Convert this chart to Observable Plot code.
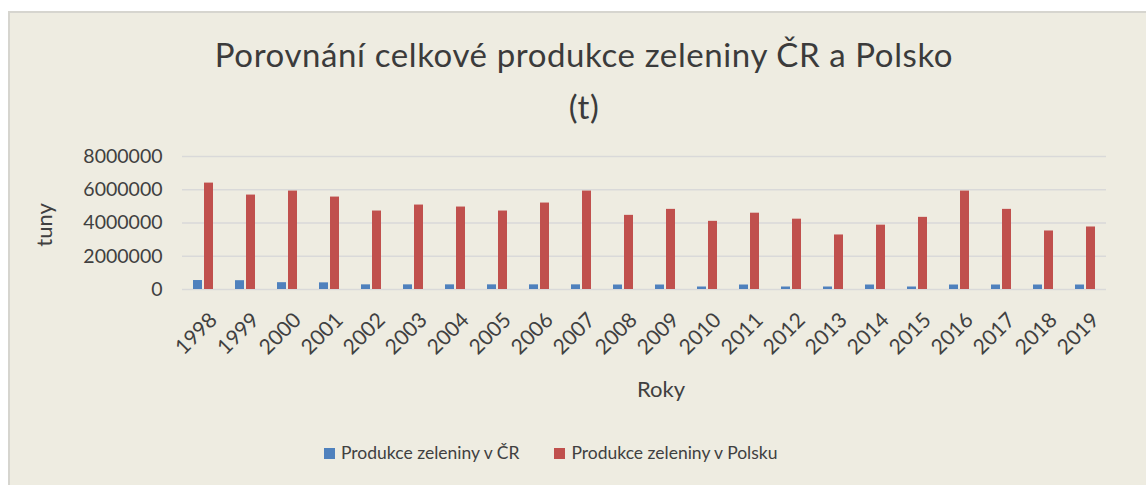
<!DOCTYPE html>
<html><head><meta charset="utf-8">
<script src="https://cdn.jsdelivr.net/npm/d3@7"></script>
<script src="https://cdn.jsdelivr.net/npm/@observablehq/plot@0.6"></script>
<style>
body{margin:0;background:#fff;font-family:Lato, sans-serif;color:#404040;}
#wrap{position:relative;width:1146px;height:485px;overflow:hidden;}
#panel{position:absolute;left:8px;top:11px;width:1150px;height:480px;background:#EEECE1;border-left:2px solid #D6D5CF;border-top:2px solid #D6D5CF;}
#title{position:absolute;left:0;top:28px;width:1168px;text-align:center;font-size:33px;letter-spacing:0.6px;line-height:52px;color:#3b3b3b;}
#chart{position:absolute;left:0;top:0;}
#ylab{position:absolute;left:43px;top:225px;font-size:22px;transform:translate(-50%,-50%) rotate(-90deg);white-space:nowrap;}
#xlab{position:absolute;left:661px;top:388px;font-size:22px;transform:translate(-50%,-50%);white-space:nowrap;}
#legend{position:absolute;left:324px;top:441px;display:flex;font-size:17.5px;line-height:24px;}
.item{display:flex;align-items:center;margin-right:35px;}
.sw{width:11px;height:11px;margin-right:6px;}
</style>
</head><body>
<div id="wrap">
  <div id="panel"></div>
  <div id="title">Porovnání celkové produkce zeleniny ČR a Polsko<br>(t)</div>
  <div id="chart"></div>
  <div id="ylab">tuny</div>
  <div id="xlab">Roky</div>
  <div id="legend"></div>
</div>
<script>
const years = ["1998","1999","2000","2001","2002","2003","2004","2005","2006","2007","2008","2009","2010","2011","2012","2013","2014","2015","2016","2017","2018","2019"];
const seriesNames = ["Produkce zeleniny v ČR", "Produkce zeleniny v Polsku"];
const seriesColors = ["#4F81BD", "#C0504D"];
const czValues = [540000,530000,410000,400000,280000,280000,280000,280000,280000,280000,270000,270000,150000,270000,150000,150000,270000,150000,270000,270000,270000,270000];
const plValues = [6400000,5680000,5920000,5560000,4720000,5080000,4960000,4720000,5200000,5920000,4460000,4820000,4100000,4590000,4230000,3280000,3870000,4340000,5920000,4820000,3520000,3760000];
const yTicks = [0,2000000,4000000,6000000,8000000];

const rows = [];
years.forEach((y,i) => {
  rows.push({year:y, series:seriesNames[0], value:czValues[i]});
  rows.push({year:y, series:seriesNames[1], value:plValues[i]});
});

const chart = Plot.plot({
  width:1146, height:485,
  marginTop:156, marginBottom:196, marginLeft:180, marginRight:39,
  style:{fontFamily:"Lato, sans-serif", fontSize:"19px", color:"#404040", background:"transparent", overflow:"visible"},
  fx:{domain:years, paddingInner:0, paddingOuter:0, label:null},
  x:{domain:seriesNames, paddingInner:0.18, paddingOuter:0.948, axis:null},
  y:{domain:[0,8000000]},
  color:{domain:seriesNames, range:seriesColors},
  marks:[
    Plot.gridY(yTicks, {stroke:"#D9D9D9", strokeOpacity:1, strokeWidth:1.5}),
    Plot.barY(rows, {fx:"year", x:"series", y:"value", fill:"series"}),
    Plot.axisY(yTicks, {tickFormat:d3.format("d"), tickSize:0, tickPadding:20, label:null, fontSize:19.5}),
    Plot.axisFx({anchor:"bottom", tickRotate:-45, tickSize:0, tickPadding:27, dx:10, label:null, fontSize:21})
  ]
});
document.getElementById("chart").appendChild(chart);

const legend = document.getElementById("legend");
seriesNames.forEach((name,i) => {
  const it = document.createElement("div"); it.className = "item";
  const sw = document.createElement("div"); sw.className = "sw"; sw.style.background = seriesColors[i];
  const t = document.createElement("span"); t.textContent = name;
  it.appendChild(sw); it.appendChild(t); legend.appendChild(it);
});
</script>
</body></html>
